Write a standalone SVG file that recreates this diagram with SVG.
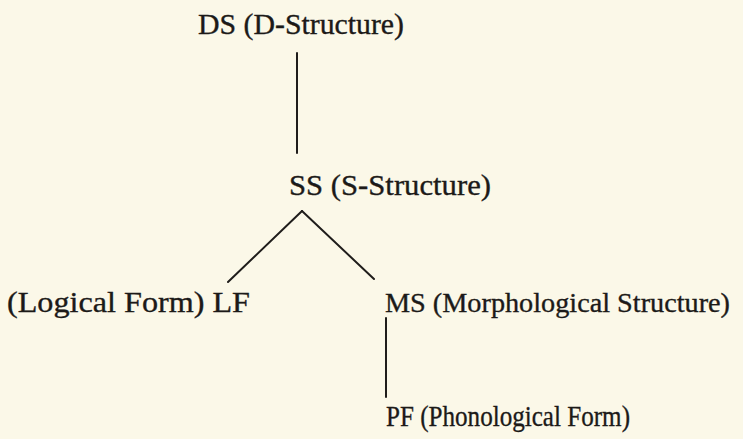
<svg xmlns="http://www.w3.org/2000/svg" width="743" height="439" viewBox="0 0 743 439">
  <style>
    .bg { fill: #fbf8e8; }
    .lbl { font-family: "Liberation Serif", "Times New Roman", serif; font-size: 30px; fill: #1c1a18; stroke: #1c1a18; stroke-width: 0.35px; }
    .lbl-long { font-size: 28.3px; }
    .edge { stroke: #1f1d1b; stroke-width: 2; fill: none; stroke-linecap: round; }
  </style>
  <rect class="bg" x="0" y="0" width="743" height="439"/>

  <!-- tree branches -->
  <g id="connectors">
    <line class="edge" x1="297" y1="53" x2="297" y2="153"/>
    <line class="edge" x1="302" y1="211" x2="228" y2="282"/>
    <line class="edge" x1="302" y1="211" x2="374" y2="279"/>
    <line class="edge" x1="386" y1="318" x2="386" y2="397"/>
  </g>

  <g id="node-ds">
    <text class="lbl" x="198" y="34" textLength="206" lengthAdjust="spacingAndGlyphs">DS (D-Structure)</text>
  </g>
  <g id="node-ss">
    <text class="lbl" x="289" y="195" textLength="202" lengthAdjust="spacingAndGlyphs">SS (S-Structure)</text>
  </g>
  <g id="node-lf">
    <text class="lbl" x="7" y="312" textLength="243" lengthAdjust="spacingAndGlyphs">(Logical Form) LF</text>
  </g>
  <g id="node-ms">
    <text class="lbl lbl-long" x="385" y="312" textLength="345" lengthAdjust="spacingAndGlyphs">MS (Morphological Structure)</text>
  </g>
  <g id="node-pf">
    <text class="lbl" x="386" y="426" textLength="244" lengthAdjust="spacingAndGlyphs">PF (Phonological Form)</text>
  </g>
</svg>
